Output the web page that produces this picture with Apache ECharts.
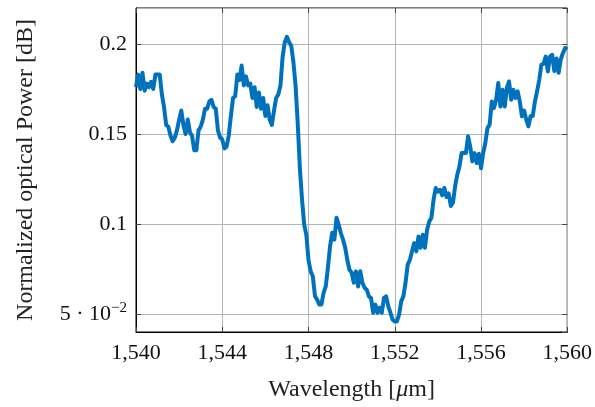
<!DOCTYPE html>
<html>
<head>
<meta charset="utf-8">
<script src="https://cdn.jsdelivr.net/npm/echarts@6/dist/echarts.min.js"></script>
<style>
html,body{margin:0;padding:0;background:#fff;}
#chart{width:595px;height:407px;}
</style>
</head>
<body>
<div id="chart"></div>
<script>
// Wavelength samples (nm, written as in the reference axis)
const wavelengths = [
1540.0,1540.1,1540.2,1540.3,1540.4,1540.5,1540.6,1540.7,1540.8,1540.9,
1541.0,1541.1,1541.2,1541.3,1541.4,1541.5,1541.6,1541.7,1541.8,1541.9,
1542.0,1542.1,1542.2,1542.3,1542.4,1542.5,1542.6,1542.7,1542.8,1542.9,
1543.0,1543.1,1543.2,1543.3,1543.4,1543.5,1543.6,1543.7,1543.8,1543.9,
1544.0,1544.1,1544.2,1544.3,1544.4,1544.5,1544.6,1544.7,1544.8,1544.9,
1545.0,1545.1,1545.2,1545.3,1545.4,1545.5,1545.6,1545.7,1545.8,1545.9,
1546.0,1546.1,1546.2,1546.3,1546.4,1546.5,1546.6,1546.7,1546.8,1546.9,
1547.0,1547.1,1547.2,1547.3,1547.4,1547.5,1547.6,1547.7,1547.8,1547.9,
1548.0,1548.1,1548.2,1548.3,1548.4,1548.5,1548.6,1548.7,1548.8,1548.9,
1549.0,1549.1,1549.2,1549.3,1549.4,1549.5,1549.6,1549.7,1549.8,1549.9,
1550.0,1550.1,1550.2,1550.3,1550.4,1550.5,1550.6,1550.7,1550.8,1550.9,
1551.0,1551.1,1551.2,1551.3,1551.4,1551.5,1551.6,1551.7,1551.8,1551.9,
1552.0,1552.1,1552.2,1552.3,1552.4,1552.5,1552.6,1552.7,1552.8,1552.9,
1553.0,1553.1,1553.2,1553.3,1553.4,1553.5,1553.6,1553.7,1553.8,1553.9,
1554.0,1554.1,1554.2,1554.3,1554.4,1554.5,1554.6,1554.7,1554.8,1554.9,
1555.0,1555.1,1555.2,1555.3,1555.4,1555.5,1555.6,1555.7,1555.8,1555.9,
1556.0,1556.1,1556.2,1556.3,1556.4,1556.5,1556.6,1556.7,1556.8,1556.9,
1557.0,1557.1,1557.2,1557.3,1557.4,1557.5,1557.6,1557.7,1557.8,1557.9,
1558.0,1558.1,1558.2,1558.3,1558.4,1558.5,1558.6,1558.7,1558.8,1558.9,
1559.0,1559.1,1559.2,1559.3,1559.4,1559.5,1559.6,1559.7,1559.8,1559.9,
1560.0
];

// Normalized optical power
const power = [
0.176,0.183,0.175,0.184,0.174,0.178,0.176,0.179,0.175,0.183,
0.183,0.183,0.172,0.165,0.155,0.154,0.149,0.146,0.148,0.152,
0.158,0.163,0.155,0.150,0.158,0.151,0.149,0.141,0.141,0.152,
0.154,0.158,0.164,0.164,0.168,0.169,0.165,0.164,0.152,0.148,
0.147,0.142,0.143,0.149,0.160,0.170,0.171,0.183,0.180,0.188,
0.177,0.182,0.177,0.178,0.170,0.176,0.165,0.173,0.164,0.170,
0.160,0.166,0.158,0.155,0.163,0.170,0.172,0.177,0.193,0.201,
0.204,0.201,0.199,0.190,0.177,0.156,0.131,0.1135,0.0996,0.094,
0.080,0.0737,0.071,0.060,0.058,0.0553,0.0553,0.0618,0.0653,0.0757,
0.0876,0.0951,0.0913,0.1035,0.0996,0.095,0.0913,0.087,0.080,0.0746,
0.073,0.0674,0.0737,0.0653,0.0737,0.0674,0.0646,0.0635,0.0598,0.0588,
0.0507,0.0552,0.0507,0.0535,0.0507,0.059,0.0598,0.0543,0.0507,0.0468,
0.0459,0.0459,0.0496,0.057,0.0598,0.0674,0.0774,0.080,0.0848,0.0894,
0.0848,0.0931,0.0868,0.094,0.0868,0.0968,0.1014,0.1035,0.1135,0.120,
0.118,0.119,0.116,0.120,0.115,0.117,0.110,0.112,0.121,0.1274,
0.132,0.1394,0.1394,0.1394,0.1487,0.143,0.1348,0.1394,0.1339,0.139,
0.131,0.1394,0.145,0.1533,0.1552,0.168,0.1644,0.169,0.1783,0.1653,
0.1746,0.1653,0.1756,0.1792,0.169,0.1746,0.170,0.1737,0.168,0.1598,
0.163,0.158,0.1542,0.160,0.160,0.168,0.1737,0.180,0.1885,0.189,
0.193,0.1848,0.193,0.194,0.185,0.192,0.184,0.1915,0.195,0.1978,
0.197
];

const xTicks = [1540, 1544, 1548, 1552, 1556, 1560];
const yTicks = [0.05, 0.1, 0.15, 0.2];
const xTitle = 'Wavelength [{i|μ}m]';
const yTitle = 'Normalized optical Power [dB]';

const FONT = '"Liberation Serif", "DejaVu Serif", serif';

function fmtX(v) {
  const s = String(Math.round(v));
  return s.slice(0, s.length - 3) + ',' + s.slice(s.length - 3);
}
function fmtY(v) {
  if (Math.abs(v - 0.05) < 1e-9) return '5 · 10{sup|−2}';
  for (const t of yTicks) if (Math.abs(v - t) < 1e-9) return String(t);
  return '';
}

const chart = echarts.init(document.getElementById('chart'), null, {renderer: 'canvas'});

const gridLine = {show: true, lineStyle: {color: '#b4b4b4', width: 1}};
const tick = {show: true, inside: true, length: 5, lineStyle: {color: '#444', width: 1}};

chart.setOption({
  animation: false,
  backgroundColor: '#fff',
  grid: {left: 136, right: 27, top: 8, bottom: 75, show: true, borderColor: '#000', borderWidth: 1, backgroundColor: 'transparent'},
  xAxis: [{
    type: 'value', min: 1540, max: 1560, interval: 4,
    axisLine: {show: true, lineStyle: {color: '#000', width: 1}},
    axisTick: tick,
    splitLine: gridLine,
    axisLabel: {formatter: fmtX, color: '#111', fontFamily: FONT, fontSize: 22, margin: 10},
    name: xTitle,
    nameLocation: 'middle', nameGap: 46,
    nameTextStyle: {color: '#222', fontFamily: FONT, fontSize: 24, rich: {i: {fontStyle: 'italic', fontFamily: FONT, fontSize: 24, color: '#222'}}}
  }, {
    type: 'value', min: 1540, max: 1560, interval: 4, position: 'top',
    axisLine: {show: false}, axisTick: tick, splitLine: {show: false}, axisLabel: {show: false}
  }],
  yAxis: [{
    type: 'value', min: 0.04, max: 0.22, splitNumber: 3,
    axisLine: {show: true, lineStyle: {color: '#000', width: 1}},
    axisTick: tick,
    splitLine: gridLine,
    axisLabel: {
      formatter: fmtY, showMinLabel: false, showMaxLabel: false,
      color: '#111', fontFamily: FONT, fontSize: 22, margin: 9,
      rich: {sup: {fontFamily: FONT, fontSize: 15, color: '#111', padding: [0, 0, 12, 0]}}
    },
    name: yTitle,
    nameLocation: 'middle', nameGap: 98, nameRotate: 90,
    nameTextStyle: {color: '#222', fontFamily: FONT, fontSize: 24}
  }, {
    type: 'value', min: 0.04, max: 0.22, splitNumber: 3, position: 'right',
    axisLine: {show: false}, axisTick: tick, splitLine: {show: false}, axisLabel: {show: false}
  }],
  series: [{
    type: 'line',
    data: wavelengths.map((w, i) => [w, power[i]]),
    showSymbol: false,
    lineStyle: {color: '#0072BD', width: 4, join: 'round'},
    itemStyle: {color: '#0072BD'},
    clip: true
  }]
});
</script>
</body>
</html>
